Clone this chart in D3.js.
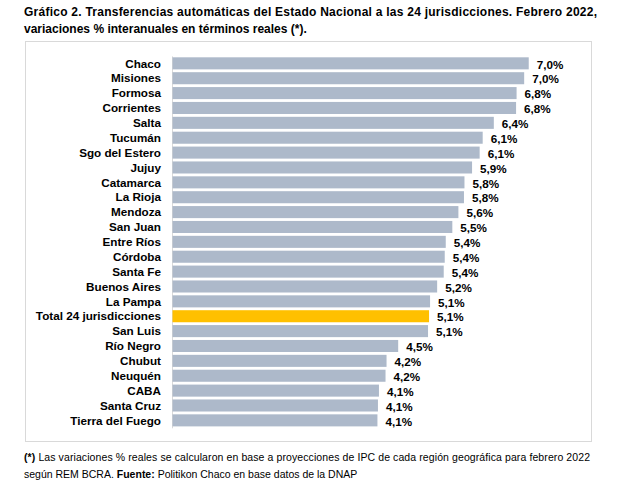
<!DOCTYPE html>
<html>
<head>
<meta charset="utf-8">
<script src="https://cdn.jsdelivr.net/npm/d3@7"></script>
<style>
  html, body { margin: 0; padding: 0; background: #fff; }
  svg { display: block; font-family: "Liberation Sans", Arial, sans-serif; }
</style>
</head>
<body>
<svg id="chart" width="622" height="485"></svg>
<script>
const categories = ["Chaco", "Misiones", "Formosa", "Corrientes", "Salta", "Tucumán", "Sgo del Estero", "Jujuy", "Catamarca", "La Rioja", "Mendoza", "San Juan", "Entre Ríos", "Córdoba", "Santa Fe", "Buenos Aires", "La Pampa", "Total 24 jurisdicciones", "San Luis", "Río Negro", "Chubut", "Neuquén", "CABA", "Santa Cruz", "Tierra del Fuego"];
const values = [7.05, 6.96, 6.81, 6.80, 6.36, 6.14, 6.08, 5.93, 5.78, 5.77, 5.66, 5.54, 5.41, 5.39, 5.37, 5.24, 5.10, 5.08, 5.06, 4.47, 4.24, 4.22, 4.09, 4.07, 4.06];
const valueLabels = ["7,0%", "7,0%", "6,8%", "6,8%", "6,4%", "6,1%", "6,1%", "5,9%", "5,8%", "5,8%", "5,6%", "5,5%", "5,4%", "5,4%", "5,4%", "5,2%", "5,1%", "5,1%", "5,1%", "4,5%", "4,2%", "4,2%", "4,1%", "4,1%", "4,1%"];
const highlight = "Total 24 jurisdicciones";
const titleLines = ["Gráfico 2. Transferencias automáticas del Estado Nacional a las 24 jurisdicciones. Febrero 2022,", "variaciones % interanuales en términos reales (*)."];

const data = categories.map((c, i) => ({ cat: c, value: values[i], label: valueLabels[i] }));

const svg = d3.select("#chart");

// Title
svg.append("text").attr("x", 24).attr("y", 16)
  .attr("font-size", 12).attr("font-weight", "bold").attr("fill", "#000")
  .attr("textLength", 573).attr("lengthAdjust", "spacing")
  .text(titleLines[0]);
svg.append("text").attr("x", 24).attr("y", 33)
  .attr("font-size", 12).attr("font-weight", "bold").attr("fill", "#000")
  .text(titleLines[1]);

// Frame
svg.append("rect").attr("x", 25.5).attr("y", 41.5).attr("width", 566).attr("height", 400)
  .attr("fill", "none").attr("stroke", "#d9d9d9").attr("stroke-width", 1);

const x = d3.scaleLinear().domain([0, 8]).range([172, 172 + 8 * 50.6]);
const y = d3.scaleBand().domain(categories).range([55.9, 427.8]).paddingInner(0.19).paddingOuter(0.095);

// axis line
const axisG = svg.append("g").attr("transform", `translate(${x(0)},0)`)
  .call(d3.axisLeft(y).tickSize(0).tickSizeOuter(0).tickFormat(""));
axisG.select(".domain").attr("stroke", "#d9d9d9");

// bars
svg.append("g").selectAll("rect").data(data).join("rect")
  .attr("x", x(0) + 0.5)
  .attr("y", d => y(d.cat))
  .attr("width", d => x(d.value) - x(0) - 0.5)
  .attr("height", y.bandwidth())
  .attr("fill", d => d.cat === highlight ? "#ffc000" : "#adb9ca");

// category labels
svg.append("g").selectAll("text").data(data).join("text")
  .attr("x", 161)
  .attr("y", d => y(d.cat) + y.bandwidth() / 2)
  .attr("dy", "0.36em")
  .attr("text-anchor", "end")
  .attr("font-size", 11.7).attr("font-weight", "bold").attr("fill", "#000")
  .text(d => d.cat);

// value labels
svg.append("g").selectAll("text").data(data).join("text")
  .attr("x", d => x(d.value) + 8)
  .attr("y", d => y(d.cat) + y.bandwidth() / 2 + 1)
  .attr("dy", "0.36em")
  .attr("font-size", 11.7).attr("font-weight", "bold").attr("fill", "#000")
  .text(d => d.label);

// Footnote
svg.append("text").attr("x", 24).attr("y", 461)
  .attr("font-size", 10.5).attr("fill", "#000")
  .attr("textLength", 566).attr("lengthAdjust", "spacing")
  .call(t => {
    t.append("tspan").attr("font-weight", "bold").text("(*)");
    t.append("tspan").text(" Las variaciones % reales se calcularon en base a proyecciones de IPC de cada región geográfica para febrero 2022");
  });
svg.append("text").attr("x", 24).attr("y", 478)
  .attr("font-size", 10.5).attr("fill", "#000")
  .call(t => {
    t.append("tspan").text("según REM BCRA. ");
    t.append("tspan").attr("font-weight", "bold").text("Fuente:");
    t.append("tspan").text(" Politikon Chaco en base datos de la DNAP");
  });
</script>
</body>
</html>
